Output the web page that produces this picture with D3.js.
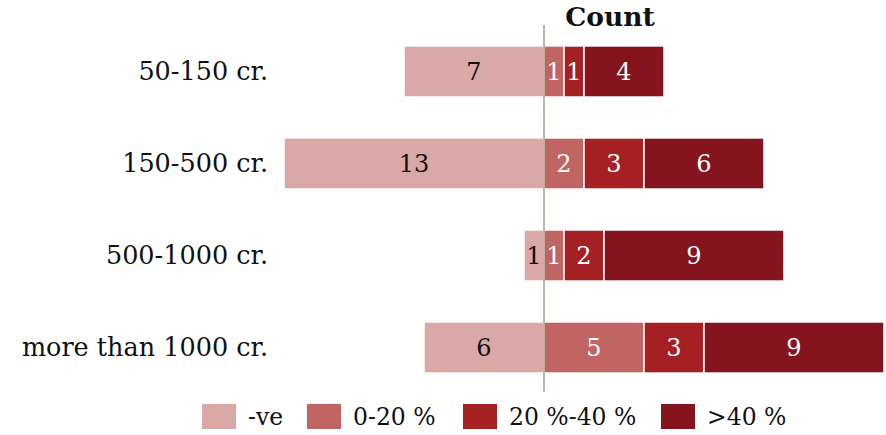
<!DOCTYPE html>
<html>
<head>
<meta charset="utf-8">
<script src="https://cdn.jsdelivr.net/npm/d3@7"></script>
<style>
  body { margin: 0; background: #fff; }
  svg text { font-family: Georgia, "DejaVu Serif", serif; }
</style>
</head>
<body>
<div id="chart"></div>
<script>
// data
var categories = ["50-150 cr.", "150-500 cr.", "500-1000 cr.", "more than 1000 cr."];
var seriesNames = ["-ve", "0-20 %", "20 %-40 %", ">40 %"];
var negValues = [7, 13, 1, 6];
var low = [1, 2, 1, 5];
var mid = [1, 3, 2, 3];
var high = [4, 6, 9, 9];
var colors = ["#dba8a8", "#c06464", "#a52022", "#85141f"];

var width = 886, height = 435;

var svg = d3.select("#chart").append("svg")
    .attr("width", width)
    .attr("height", height);

// rows of segments: negative one goes left, the rest stack right
var rows = categories.map(function(c, i){
    var segs = [];
    segs.push({cat: c, key: 0, x0: -negValues[i], x1: 0, v: negValues[i]});
    var acc = 0;
    [low[i], mid[i], high[i]].forEach(function(v, k){
        segs.push({cat: c, key: k + 1, x0: acc, x1: acc + v, v: v});
        acc += v;
    });
    return segs;
});
var allSegs = [].concat.apply([], rows);

var x = d3.scaleLinear()
    .domain([d3.min(allSegs, d => d.x0), d3.max(allSegs, d => d.x1)])
    .range([284, 884]);

var y = d3.scaleBand()
    .domain(categories)
    .range([5, 414])
    .padding(0.445);

// bars
svg.selectAll(".seg")
    .data(allSegs)
    .enter().append("rect")
    .attr("class", "seg")
    .attr("x", d => x(d.x0))
    .attr("y", d => y(d.cat))
    .attr("width", d => x(d.x1) - x(d.x0))
    .attr("height", y.bandwidth())
    .attr("fill", d => colors[d.key])
    .attr("stroke", "#fff")
    .attr("stroke-width", 1.5);

// value labels
svg.selectAll(".val")
    .data(allSegs)
    .enter().append("text")
    .attr("class", "val")
    .attr("x", d => (x(d.x0) + x(d.x1)) / 2)
    .attr("y", d => y(d.cat) + y.bandwidth() / 2)
    .attr("dy", "0.36em")
    .attr("text-anchor", "middle")
    .attr("font-size", 24)
    .attr("fill", d => d.key === 0 ? "#111" : "#fff")
    .text(d => d.v);

// zero line
svg.append("line")
    .attr("x1", x(0)).attr("x2", x(0))
    .attr("y1", 25).attr("y2", 392)
    .attr("stroke", "#a89f84")
    .attr("stroke-width", 1.5);

// category labels
svg.selectAll(".cat")
    .data(categories)
    .enter().append("text")
    .attr("class", "cat")
    .attr("x", 268)
    .attr("y", d => y(d) + y.bandwidth() / 2)
    .attr("dy", "0.32em")
    .attr("text-anchor", "end")
    .attr("font-size", 25.5)
    .attr("fill", "#111")
    .text(d => d);

// title
svg.append("text")
    .attr("x", 610)
    .attr("y", 26)
    .attr("text-anchor", "middle")
    .attr("font-size", 26.5)
    .attr("font-weight", "bold")
    .attr("fill", "#111")
    .text("Count");

// legend
var legendX = [202, 307, 463, 661];
var legend = svg.selectAll(".legend")
    .data(seriesNames)
    .enter().append("g")
    .attr("class", "legend")
    .attr("transform", (d, i) => "translate(" + legendX[i] + ",404)");

legend.append("rect")
    .attr("width", 34)
    .attr("height", 25)
    .attr("fill", (d, i) => colors[i]);

legend.append("text")
    .attr("x", 46)
    .attr("y", 13)
    .attr("dy", "0.35em")
    .attr("font-size", 23.5)
    .attr("fill", "#111")
    .text(d => d);
</script>
</body>
</html>
